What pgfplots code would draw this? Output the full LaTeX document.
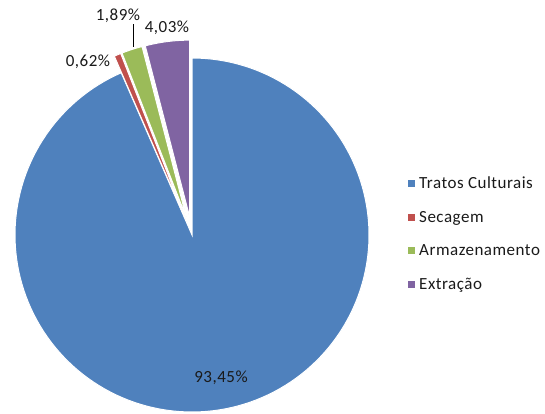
\documentclass[border=0pt]{standalone}
\usepackage{fontspec}
\setmainfont{Carlito}[LetterSpace=3]
\usepackage{pgfplots}
\usepackage{pgfplotstable}
\pgfplotsset{compat=1.18}
\definecolor{cblue}{HTML}{4F81BD}
\definecolor{cred}{HTML}{C0504D}
\definecolor{cgreen}{HTML}{9BBB59}
\definecolor{cpurple}{HTML}{8064A2}
\definecolor{ctext}{HTML}{1A1A1A}

\pgfplotstableread{
label value
Tratos 93.45
Secagem 0.62
Armazenamento 1.89
Extracao 4.03
}\pietable

\begin{document}
\begin{tikzpicture}
\pgfplotstablegetelem{0}{value}\of\pietable \pgfmathsetmacro\va{\pgfplotsretval}
\pgfplotstablegetelem{1}{value}\of\pietable \pgfmathsetmacro\vb{\pgfplotsretval}
\pgfplotstablegetelem{2}{value}\of\pietable \pgfmathsetmacro\vc{\pgfplotsretval}
\pgfplotstablegetelem{3}{value}\of\pietable \pgfmathsetmacro\vd{\pgfplotsretval}
\pgfmathsetmacro\aA{90}
\pgfmathsetmacro\aB{\aA-3.6*\va}
\pgfmathsetmacro\aC{\aB-3.6*\vb}
\pgfmathsetmacro\aD{\aC-3.6*\vc}
\pgfmathsetmacro\aE{\aD-3.6*\vd}
\def\cx{192}\def\cy{179}\def\R{177}\def\ex{18}
\pgfmathsetmacro\dxb{\ex*cos((\aB+\aC)/2)}\pgfmathsetmacro\dyb{\ex*sin((\aB+\aC)/2)}
\pgfmathsetmacro\dxc{\ex*cos((\aC+\aD)/2)}\pgfmathsetmacro\dyc{\ex*sin((\aC+\aD)/2)}
\pgfmathsetmacro\dxd{\ex*cos((\aD+\aE)/2)}\pgfmathsetmacro\dyd{\ex*sin((\aD+\aE)/2)}
\begin{axis}[
  scale only axis, width=545pt, height=414pt,
  xmin=0, xmax=545, ymin=0, ymax=414,
  hide axis, clip=false,
  legend style={at={(axis cs:407,180)}, anchor=west, draw=none, fill=none,
    font=\fontsize{17}{20}\selectfont, row sep=17pt, inner sep=0pt,
    nodes={text=ctext, inner xsep=3pt}},
  legend cell align=left,
  legend image code/.code={\fill[#1] (0pt,-4pt) rectangle (8pt,4pt);},
]
\path (axis cs:0,0) rectangle (axis cs:545,414);
\addplot[fill=cblue, draw=white, line width=1pt, domain=\aB:\aA, samples=160, variable=\t]
  ({\cx+\R*cos(\t)},{\cy+\R*sin(\t)}) -- (axis cs:\cx,\cy) -- cycle;
\addlegendentry{Tratos Culturais}
\addplot[fill=cred, draw=white, line width=1pt, domain=\aC:\aB, samples=5, variable=\t]
  ({\cx+\dxb+\R*cos(\t)},{\cy+\dyb+\R*sin(\t)}) -- (axis cs:\cx+\dxb,\cy+\dyb) -- cycle;
\addlegendentry{Secagem}
\addplot[fill=cgreen, draw=white, line width=1pt, domain=\aD:\aC, samples=10, variable=\t]
  ({\cx+\dxc+\R*cos(\t)},{\cy+\dyc+\R*sin(\t)}) -- (axis cs:\cx+\dxc,\cy+\dyc) -- cycle;
\addlegendentry{Armazenamento}
\addplot[fill=cpurple, draw=white, line width=1pt, domain=\aE:\aD, samples=20, variable=\t]
  ({\cx+\dxd+\R*cos(\t)},{\cy+\dyd+\R*sin(\t)}) -- (axis cs:\cx+\dxd,\cy+\dyd) -- cycle;
\addlegendentry{Extração}
\addplot[black, line width=0.8pt, forget plot] coordinates {(133,367) (133,390)};
\node[text=ctext, font=\fontsize{17}{20}\selectfont] at (axis cs:221,36) {93,45\%};
\node[text=ctext, font=\fontsize{17}{20}\selectfont] at (axis cs:88,352) {0,62\%};
\node[text=ctext, font=\fontsize{17}{20}\selectfont] at (axis cs:118,398) {1,89\%};
\node[text=ctext, font=\fontsize{17}{20}\selectfont] at (axis cs:167,386) {4,03\%};
\end{axis}
\end{tikzpicture}
\end{document}
